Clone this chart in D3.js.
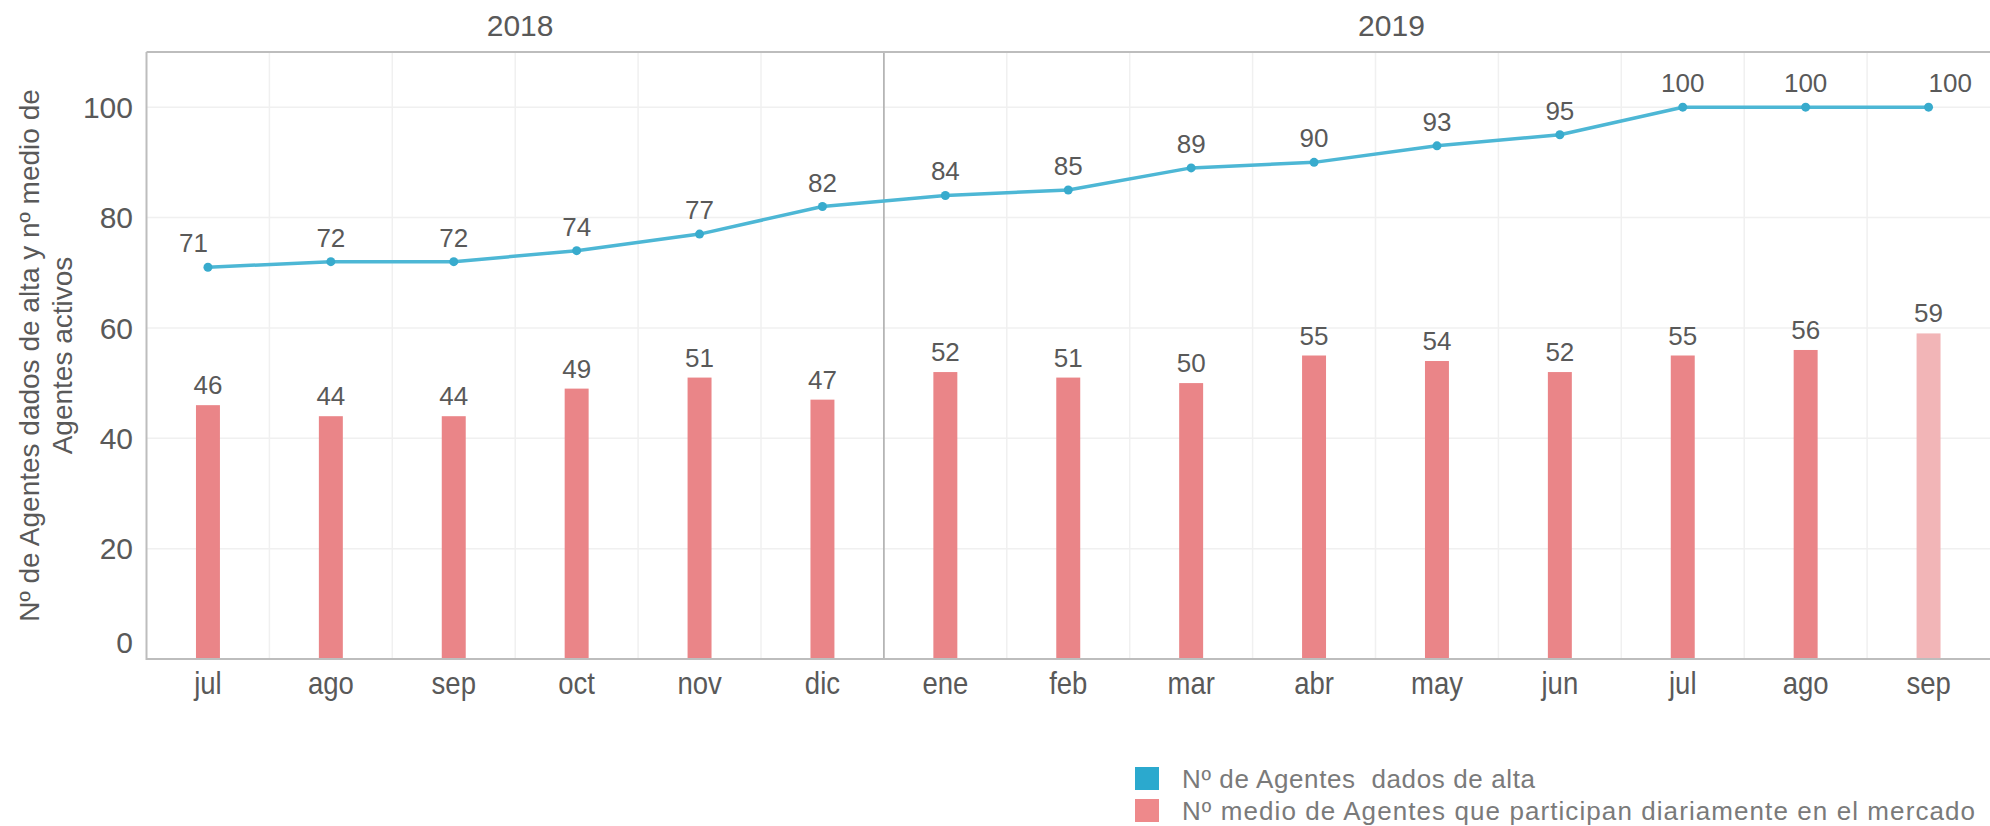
<!DOCTYPE html>
<html>
<head>
<meta charset="utf-8">
<script src="https://cdn.jsdelivr.net/npm/d3@7"></script>
<style>
  html, body { margin: 0; padding: 0; background: #fff; }
  svg { display: block; }
</style>
</head>
<body>
<svg id="chart" width="1990" height="826"></svg>
<script>
// ---- data ----
const months = ["jul","ago","sep","oct","nov","dic","ene","feb","mar","abr","may","jun","jul","ago","sep"];
const monthKeys = months.map((m, i) => i + "_" + m);
const yearLabels = ["2018", "2019"];
const yearFirstMonth = [0, 6];          // index where each year starts
const registered = [71, 72, 72, 74, 77, 82, 84, 85, 89, 90, 93, 95, 100, 100, 100];
const active = [46, 44, 44, 49, 51, 47, 52, 51, 50, 55, 54, 52, 55, 56, 59];
const provisional = [false,false,false,false,false,false,false,false,false,false,false,false,false,false,true];
const yTicks = [0, 20, 40, 60, 80, 100];
const legendLabels = ["Nº de Agentes  dados de alta", "Nº medio de Agentes que participan diariamente en el mercado"];
const yTitle = ["Nº de Agentes dados de alta y nº medio de", "Agentes activos"];

// ---- layout ----
const L = 146.5, R = 1990, T = 52, B = 659;
const yearCenterIdx = [2.54, 9.63];
const legendWidths = [353, 793];
const C = { line: "#4DB7D5", dot: "#38ABCD", bar: "#EA8588", barLight: "#F2B5B7",
            legBlue: "#2BA9CE", legPink: "#EE898B", grid: "#f0f0f0", axis: "#bdbdbd",
            text: "#595959", legText: "#7a7a7a" };

const svg = d3.select("#chart");
const x = d3.scaleBand().domain(monthKeys).range([L, R]).paddingInner(0).paddingOuter(0);
const xc = i => x(monthKeys[i]) + x.bandwidth() / 2;
const y = d3.scaleLinear().domain([0, 110]).range([B, T]);
const bw = x.bandwidth() * 0.195;

// horizontal grid
svg.append("g").selectAll("line").data(yTicks.filter(d => d > 0)).join("line")
  .attr("x1", L).attr("x2", R).attr("y1", d => y(d)).attr("y2", d => y(d))
  .attr("stroke", C.grid).attr("stroke-width", 1.5);
// vertical grid at band boundaries
svg.append("g").selectAll("line").data(d3.range(1, months.length)).join("line")
  .attr("x1", i => x(monthKeys[i])).attr("x2", i => x(monthKeys[i]))
  .attr("y1", T).attr("y2", B)
  .attr("stroke", C.grid).attr("stroke-width", 1.5);
// year separator
svg.append("g").selectAll("line").data(yearFirstMonth.filter(i => i > 0)).join("line")
  .attr("x1", i => x(monthKeys[i])).attr("x2", i => x(monthKeys[i]))
  .attr("y1", T).attr("y2", B)
  .attr("stroke", "#ababab").attr("stroke-width", 1.5);

// bars
svg.append("g").selectAll("rect").data(active).join("rect")
  .attr("x", (d, i) => xc(i) - bw / 2).attr("width", bw)
  .attr("y", d => y(d)).attr("height", d => B - y(d))
  .attr("fill", (d, i) => provisional[i] ? C.barLight : C.bar);
svg.append("g").selectAll("text").data(active).join("text")
  .attr("x", (d, i) => xc(i)).attr("y", d => y(d) - 11)
  .attr("text-anchor", "middle")
  .style("font", "26px 'Liberation Sans', Arial, sans-serif").attr("fill", C.text)
  .text(d => d);

// line
const line = d3.line().x((d, i) => xc(i)).y(d => y(d));
svg.append("path").datum(registered).attr("d", line)
  .attr("fill", "none").attr("stroke", C.line).attr("stroke-width", 3.5)
  .attr("stroke-linejoin", "round");
svg.append("g").selectAll("circle").data(registered).join("circle")
  .attr("cx", (d, i) => xc(i)).attr("cy", d => y(d)).attr("r", 4.5).attr("fill", C.dot);
svg.append("g").selectAll("text").data(registered).join("text")
  .attr("x", (d, i) => xc(i)).attr("y", d => y(d) - 15)
  .attr("text-anchor", (d, i) => i === 0 ? "end" : (i === registered.length - 1 ? "start" : "middle"))
  .style("font", "26px 'Liberation Sans', Arial, sans-serif").attr("fill", C.text)
  .text(d => d);

// axes frame
svg.append("line").attr("x1", L).attr("x2", R).attr("y1", T).attr("y2", T)
  .attr("stroke", C.axis).attr("stroke-width", 2);
svg.append("line").attr("x1", L).attr("x2", L).attr("y1", T).attr("y2", B + 1)
  .attr("stroke", C.axis).attr("stroke-width", 2);
svg.append("line").attr("x1", L).attr("x2", R).attr("y1", B).attr("y2", B)
  .attr("stroke", C.axis).attr("stroke-width", 2);

// y tick labels
svg.append("g").selectAll("text").data(yTicks).join("text")
  .attr("x", 133).attr("y", d => y(d) - (d === 0 ? 16.5 : 0))
  .attr("dy", "0.36em").attr("text-anchor", "end")
  .style("font", "30px 'Liberation Sans', Arial, sans-serif").attr("fill", C.text)
  .text(d => d);

// month labels (condensed look)
svg.append("g").selectAll("text").data(months).join("text")
  .attr("transform", (d, i) => `translate(${xc(i)},694) scale(0.86,1)`)
  .attr("text-anchor", "middle")
  .style("font", "32px 'Liberation Sans', Arial, sans-serif").attr("fill", C.text)
  .text(d => d);

// year labels
svg.append("g").selectAll("text").data(yearLabels).join("text")
  .attr("x", (d, i) => L + x.bandwidth() * (yearCenterIdx[i] + 0.5)).attr("y", 36)
  .attr("text-anchor", "middle")
  .style("font", "30px 'Liberation Sans', Arial, sans-serif").attr("fill", C.text)
  .text(d => d);

// y title
const yt = svg.append("text")
  .attr("transform", `translate(0, ${(T + B) / 2}) rotate(-90)`)
  .attr("text-anchor", "middle")
  .style("font", "28px 'Liberation Sans', Arial, sans-serif").attr("fill", C.text);
yt.selectAll("tspan").data(yTitle).join("tspan")
  .attr("x", 0).attr("y", (d, i) => 39 + i * 33).text(d => d);

// legend
const lg = svg.append("g");
const legColors = [C.legBlue, C.legPink];
lg.selectAll("rect").data(legendLabels).join("rect")
  .attr("x", 1135).attr("y", (d, i) => 767 + i * 32).attr("width", 24).attr("height", 23)
  .attr("fill", (d, i) => legColors[i]);
lg.selectAll("text").data(legendLabels).join("text")
  .attr("x", 1182).attr("y", (d, i) => 788 + i * 32)
  .attr("textLength", (d, i) => legendWidths[i]).attr("lengthAdjust", "spacing")
  .style("font", "26px 'Liberation Sans', Arial, sans-serif")
  .style("white-space", "pre")
  .attr("fill", C.legText)
  .text(d => d);
</script>
</body>
</html>
